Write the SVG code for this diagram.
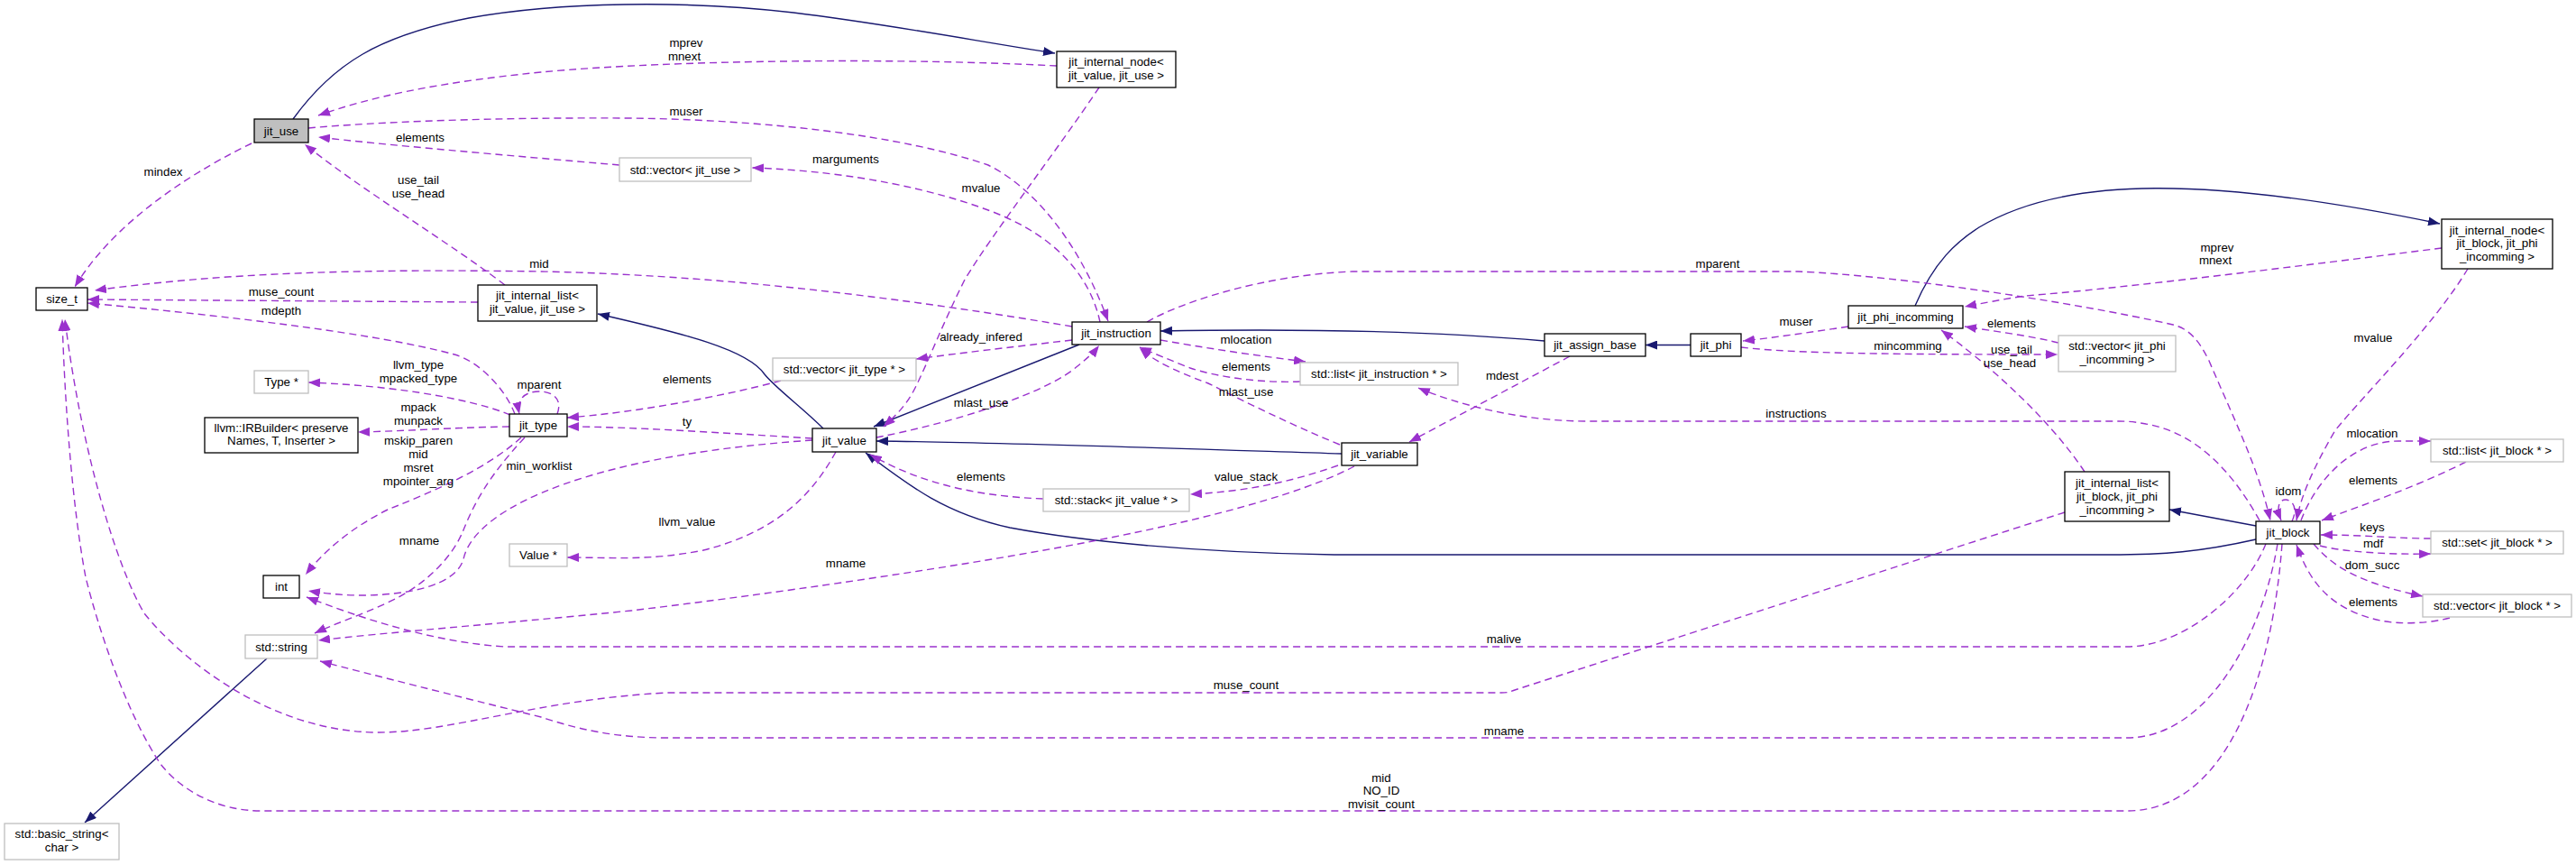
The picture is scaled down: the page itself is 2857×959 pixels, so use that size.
<svg xmlns="http://www.w3.org/2000/svg" width="2857" height="959" viewBox="0 0 2857 959">
<defs>
<style>
text{font-family:"Liberation Sans",Arial,sans-serif;font-size:13.3px;fill:#000}
.n rect{fill:#fff;stroke:#000;stroke-width:1.3}
.g rect{fill:#fff;stroke:#bfbfbf;stroke-width:1.3}
.c text,.n text,.g text{text-anchor:middle}
.u{fill:none;stroke:#9a32cd;stroke-width:1.4;stroke-dasharray:8,5;marker-end:url(#pa)}
.i{fill:none;stroke:#191970;stroke-width:1.4;marker-end:url(#na)}
</style>
<marker id="pa" markerUnits="userSpaceOnUse" markerWidth="13" markerHeight="10" refX="13" refY="5" orient="auto"><path d="M0,0L13,5L0,10z" fill="#9a32cd"/></marker>
<marker id="na" markerUnits="userSpaceOnUse" markerWidth="13" markerHeight="10" refX="13" refY="5" orient="auto"><path d="M0,0L13,5L0,10z" fill="#191970"/></marker>
</defs>
<rect width="2857" height="959" fill="#fff"/>
<g id="connectors" class="c">
<path class="i" d="M325,132 C370,70 420,40 520,20 C620,2 760,0 880,14 C980,26 1080,45 1170,59"/>
<path class="i" d="M913,475 C890,452 860,430 848,415 C830,388 760,370 663,348"/>
<path class="i" d="M1197,382 L969,473"/>
<path class="i" d="M1713,378 C1600,368 1450,364 1287,367"/>
<path class="i" d="M1875,382.5 L1825,382.5"/>
<path class="i" d="M1488,503 C1300,497 1100,490 972,489"/>
<path class="i" d="M2502,598 C2440,612 2400,615 2340,615 L1480,615 C1330,613 1200,600 1120,585 C1050,570 1010,540 960,502"/>
<path class="i" d="M2502,583 L2406,565"/>
<path class="i" d="M2124,339 C2145,290 2170,268 2195,252 C2290,195 2450,195 2706,248"/>
<path class="i" d="M296,730 L94,912"/>

<path class="u" d="M279,159 C225,185 130,240 83,318"/>
<text x="181" y="195">mindex</text>
<path class="u" d="M1172,73 C1000,64 750,66 600,80 C480,92 410,108 353,128"/>
<text x="761" y="52">mprev</text><text x="759" y="67">mnext</text>
<path class="u" d="M342,142 C420,135 550,130 700,131 C850,133 1000,150 1096,183 C1160,215 1205,290 1229,356"/>
<text x="761" y="128">muser</text>
<path class="u" d="M687,183 C560,172 420,160 353,152"/>
<text x="466" y="157">elements</text>
<path class="u" d="M560,316 C500,270 400,210 338,160"/>
<text x="464" y="204">use_tail</text><text x="464" y="219">use_head</text>
<path class="u" d="M1189,362 C1000,330 800,305 600,301 C400,298 250,302 105,322"/>
<text x="598" y="297">mid</text>
<path class="u" d="M530,335 L97,332"/>
<text x="312" y="328">muse_count</text>
<path class="u" d="M571,459 C560,430 530,400 504,393 C420,370 250,350 97,336"/>
<text x="312" y="349">mdepth</text>
<path class="u" d="M566,460 C530,445 450,428 342,424"/>
<text x="464" y="409">llvm_type</text><text x="464" y="424">mpacked_type</text>
<path class="u" d="M565,473 C500,474 450,478 397,479"/>
<text x="464" y="456">mpack</text><text x="464" y="471">munpack</text>
<path class="u" d="M618,459 C625,440 610,434 598,434 C585,434 572,440 576,459"/>
<text x="598" y="431">mparent</text>
<path class="u" d="M578,485 C540,520 480,545 430,565 C390,585 360,610 339,637"/>
<text x="464" y="493">mskip_paren</text><text x="464" y="508">mid</text><text x="464" y="523">msret</text><text x="464" y="538">mpointer_arg</text>
<path class="u" d="M582,485 C540,530 525,560 513,590 C500,620 470,650 430,668 C400,682 370,692 349,702"/>
<text x="465" y="604">mname</text>
<path class="u" d="M901,488 C800,495 700,510 625,537 C560,560 520,590 514,620 C505,650 450,660 400,660 C380,660 360,658 342,655"/>
<text x="598" y="521">min_worklist</text>
<path class="u" d="M901,486 C800,480 700,473 629,473"/>
<text x="762" y="472">ty</text>
<path class="u" d="M866,422 C800,440 700,458 629,463"/>
<text x="762" y="425">elements</text>
<path class="u" d="M927,501 C900,550 860,590 780,610 C720,622 680,618 629,618"/>
<text x="762" y="583">llvm_value</text>
<path class="u" d="M1189,377 C1120,385 1060,392 1016,398"/>
<text x="1088" y="378">already_infered</text>
<path class="u" d="M1219,97 C1170,170 1100,260 1070,310 C1045,360 1030,400 1015,430 C1005,450 992,462 980,473"/>
<text x="1088" y="213">mvalue</text>
<path class="u" d="M1220,357 C1210,310 1175,262 1096,233 C1040,212 950,190 834,186"/>
<text x="938" y="181">marguments</text>
<path class="u" d="M972,485 C1050,470 1150,440 1190,410 C1205,398 1212,392 1219,383"/>
<text x="1088" y="451">mlast_use</text>
<path class="u" d="M1157,553 C1080,550 1020,535 965,504"/>
<text x="1088" y="533">elements</text>
<path class="u" d="M1287,377 C1350,388 1400,395 1448,401"/>
<text x="1382" y="381">mlocation</text>
<path class="u" d="M1442,423 C1400,425 1350,418 1320,408 C1300,400 1280,392 1264,385"/>
<text x="1382" y="411">elements</text>
<path class="u" d="M1486,493 C1430,470 1380,445 1340,425 C1300,410 1280,400 1264,386"/>
<text x="1382" y="439">mlast_use</text>
<path class="u" d="M1741,395 L1563,490"/>
<text x="1666" y="421">mdest</text>
<path class="u" d="M1484,516 C1430,535 1380,545 1320,548"/>
<text x="1382" y="533">value_stack</text>
<path class="u" d="M1502,517 C1420,560 1250,595 1100,620 C950,645 800,665 700,677 C550,692 420,702 353,710"/>
<text x="938" y="629">mname</text>
<path class="u" d="M1272,357 C1310,335 1400,305 1500,301 L1994,301 C2100,305 2300,335 2410,360 C2430,365 2440,380 2450,400 C2480,470 2505,520 2518,577"/>
<text x="1905" y="297">mparent</text>
<path class="u" d="M2506,577 C2480,530 2440,480 2380,470 C2370,468 2360,467 2350,467 L1760,467 C1690,467 1620,450 1573,430"/>
<text x="1992" y="463">instructions</text>
<path class="u" d="M2050,362 C2010,368 1970,374 1933,378"/>
<text x="1992" y="361">muser</text>
<path class="u" d="M1931,385 C1990,392 2100,393 2282,393"/>
<text x="2116" y="388">mincomming</text>
<path class="u" d="M2283,380 C2250,372 2210,367 2179,362"/>
<text x="2231" y="363">elements</text>
<path class="u" d="M2708,275 C2550,295 2350,320 2246,328 C2220,332 2200,336 2179,340"/>
<text x="2459" y="279">mprev</text><text x="2457" y="293">mnext</text>
<path class="u" d="M2312,523 C2270,460 2200,400 2153,366"/>
<text x="2231" y="392">use_tail</text><text x="2229" y="407">use_head</text>
<path class="u" d="M2737,298 C2700,360 2620,440 2590,477 C2565,520 2552,550 2547,577"/>
<text x="2632" y="379">mvalue</text>
<path class="u" d="M2542,578 C2550,560 2540,554 2535,554 C2528,554 2524,562 2530,577"/>
<text x="2538" y="549">idom</text>
<path class="u" d="M2552,577 C2570,530 2610,489 2660,489 L2696,489"/>
<text x="2631" y="485">mlocation</text>
<path class="u" d="M2735,512 C2680,540 2620,560 2575,577"/>
<text x="2632" y="537">elements</text>
<path class="u" d="M2696,597 C2660,597 2620,593 2574,593"/>
<text x="2631" y="589">keys</text>
<path class="u" d="M2573,605 C2600,612 2650,615 2696,614"/>
<text x="2632" y="607">mdf</text>
<path class="u" d="M2566,603 C2585,625 2610,645 2687,661"/>
<text x="2631" y="631">dom_succ</text>
<path class="u" d="M2717,685 C2690,692 2660,692 2640,688 C2580,675 2560,640 2547,604"/>
<text x="2632" y="672">elements</text>
<path class="u" d="M2513,603 C2490,660 2420,717 2359,717 L560,717 C480,712 400,685 340,662"/>
<text x="1668" y="713">malive</text>
<path class="u" d="M2290,568 L1680,765 C1675,767 1672,768 1665,768 L740,768 C600,775 500,812 420,812 C300,812 200,730 160,680 C130,630 90,500 72,354"/>
<text x="1382" y="764">muse_count</text>
<path class="u" d="M2526,603 C2510,700 2450,818 2359,818 L740,818 C680,818 640,808 600,795 C500,770 420,750 355,733"/>
<text x="1668" y="815">mname</text>
<path class="u" d="M2531,603 C2520,750 2470,899 2359,899 L290,899 C240,899 200,875 178,847 C140,790 110,700 95,640 C80,560 72,450 69,354"/>
<text x="1532" y="867">mid</text><text x="1532" y="881">NO_ID</text><text x="1532" y="896">mvisit_count</text>
</g>

<g id="jit_use" class="n"><rect x="282" y="132" width="60" height="26" style="fill:#bfbfbf"/><text x="312" y="149.5">jit_use</text></g>
<g id="size_t" class="n"><rect x="40" y="319" width="57" height="25"/><text x="68.5" y="336">size_t</text></g>
<g id="jit_internal_node_value_use" class="n"><rect x="1172" y="57" width="132" height="40"/><text x="1238" y="73">jit_internal_node&lt;</text><text x="1238" y="88">jit_value, jit_use &gt;</text></g>
<g id="jit_internal_list_value_use" class="n"><rect x="530" y="316" width="132" height="40"/><text x="596" y="332">jit_internal_list&lt;</text><text x="596" y="347">jit_value, jit_use &gt;</text></g>
<g id="Type_ptr" class="g"><rect x="282" y="411" width="60" height="25"/><text x="312" y="428">Type *</text></g>
<g id="IRBuilder" class="n"><rect x="227" y="463" width="170" height="39"/><text x="312" y="479">llvm::IRBuilder&lt; preserve</text><text x="312" y="493">Names, T, Inserter &gt;</text></g>
<g id="jit_type" class="n"><rect x="565" y="459" width="64" height="25"/><text x="597" y="476">jit_type</text></g>
<g id="Value_ptr" class="g"><rect x="565" y="603" width="64" height="25"/><text x="597" y="620">Value *</text></g>
<g id="int" class="n"><rect x="292" y="638" width="40" height="25"/><text x="312" y="655">int</text></g>
<g id="std_string" class="g"><rect x="272" y="704" width="80" height="26"/><text x="312" y="721.5">std::string</text></g>
<g id="basic_string" class="g"><rect x="5" y="913" width="127" height="40"/><text x="68.5" y="929">std::basic_string&lt;</text><text x="68.5" y="944">char &gt;</text></g>
<g id="vector_jit_use" class="g"><rect x="687" y="175" width="146" height="26"/><text x="760" y="192.5">std::vector&lt; jit_use &gt;</text></g>
<g id="jit_instruction" class="n"><rect x="1189" y="357" width="98" height="25"/><text x="1238" y="374">jit_instruction</text></g>
<g id="vector_jit_type" class="g"><rect x="857" y="397" width="159" height="25"/><text x="936.5" y="414">std::vector&lt; jit_type * &gt;</text></g>
<g id="jit_value" class="n"><rect x="901" y="475" width="71" height="26"/><text x="936.5" y="492.5">jit_value</text></g>
<g id="stack_jit_value" class="g"><rect x="1157" y="542" width="162" height="25"/><text x="1238" y="559">std::stack&lt; jit_value * &gt;</text></g>
<g id="jit_assign_base" class="n"><rect x="1713" y="370" width="112" height="25"/><text x="1769" y="387">jit_assign_base</text></g>
<g id="jit_phi" class="n"><rect x="1875" y="370" width="56" height="25"/><text x="1903" y="387">jit_phi</text></g>
<g id="list_jit_instruction" class="g"><rect x="1442" y="402" width="175" height="25"/><text x="1529.5" y="419">std::list&lt; jit_instruction * &gt;</text></g>
<g id="jit_variable" class="n"><rect x="1488" y="491" width="84" height="25"/><text x="1530" y="508">jit_variable</text></g>
<g id="jit_phi_incomming" class="n"><rect x="2050" y="339" width="127" height="25"/><text x="2113.5" y="356">jit_phi_incomming</text></g>
<g id="jit_internal_node_block_phi" class="n"><rect x="2708" y="243" width="123" height="55"/><text x="2769.5" y="260">jit_internal_node&lt;</text><text x="2769.5" y="274">jit_block, jit_phi</text><text x="2769.5" y="289">_incomming &gt;</text></g>
<g id="vector_jit_phi_incomming" class="g"><rect x="2283" y="372" width="130" height="40"/><text x="2348" y="388">std::vector&lt; jit_phi</text><text x="2348" y="403">_incomming &gt;</text></g>
<g id="jit_internal_list_block_phi" class="n"><rect x="2290" y="523" width="116" height="55"/><text x="2348" y="540">jit_internal_list&lt;</text><text x="2348" y="555">jit_block, jit_phi</text><text x="2348" y="570">_incomming &gt;</text></g>
<g id="jit_block" class="n"><rect x="2502" y="578" width="71" height="25"/><text x="2537.5" y="595">jit_block</text></g>
<g id="list_jit_block" class="g"><rect x="2696" y="487" width="147" height="25"/><text x="2769.5" y="504">std::list&lt; jit_block * &gt;</text></g>
<g id="set_jit_block" class="g"><rect x="2696" y="589" width="147" height="25"/><text x="2769.5" y="606">std::set&lt; jit_block * &gt;</text></g>
<g id="vector_jit_block" class="g"><rect x="2687" y="659" width="165" height="25"/><text x="2769.5" y="676">std::vector&lt; jit_block * &gt;</text></g>
</svg>
